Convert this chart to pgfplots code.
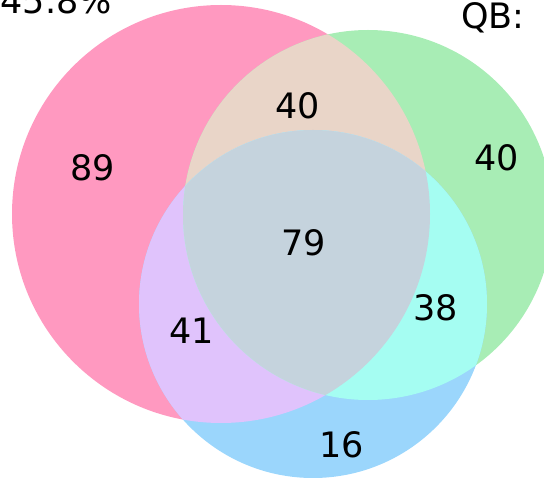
\documentclass[border=0pt]{standalone}
\usepackage{fontspec}
\setmainfont{DejaVu Sans}
\usepackage{pgfplots}
\usepackage{pgfplotstable}
\pgfplotsset{compat=1.18}

% region colours
\definecolor{onlyA}{RGB}{255,153,192}
\definecolor{onlyB}{RGB}{168,237,181}
\definecolor{onlyC}{RGB}{155,214,252}
\definecolor{AB}{RGB}{233,213,200}
\definecolor{AC}{RGB}{224,195,252}
\definecolor{BC}{RGB}{165,253,242}
\definecolor{ABC}{RGB}{197,211,221}

% circles, in picture coordinates (y downwards)
\pgfplotstableread{
cx  cy  r
221 214 209
368 215 185
313 304 174
}\circles

% region counts and label positions
\pgfplotstableread{
x   y   n
93  168 89
298 106 40
497 158 40
304 243 79
192 331 41
436 308 38
342 445 16
}\counts

\pgfplotstablegetelem{0}{cx}\of\circles \let\ax\pgfplotsretval
\pgfplotstablegetelem{0}{cy}\of\circles \let\ay\pgfplotsretval
\pgfplotstablegetelem{0}{r}\of\circles  \let\ar\pgfplotsretval
\pgfplotstablegetelem{1}{cx}\of\circles \let\bx\pgfplotsretval
\pgfplotstablegetelem{1}{cy}\of\circles \let\by\pgfplotsretval
\pgfplotstablegetelem{1}{r}\of\circles  \let\br\pgfplotsretval
\pgfplotstablegetelem{2}{cx}\of\circles \let\cx\pgfplotsretval
\pgfplotstablegetelem{2}{cy}\of\circles \let\cy\pgfplotsretval
\pgfplotstablegetelem{2}{r}\of\circles  \let\cr\pgfplotsretval

\begin{document}
\begin{tikzpicture}
\path[use as bounding box, clip] (0,0) rectangle (544pt,478pt);
\begin{axis}[
    at={(0,0)}, anchor=south west,
    scale only axis, width=544pt, height=478pt,
    xmin=0, xmax=544, ymin=0, ymax=478,
    y dir=reverse,
    hide axis,
    clip=false,
]
\pgfplotsextra{
    \fill[onlyA] (axis cs:\ax,\ay) circle[radius=\ar];
    \fill[onlyB] (axis cs:\bx,\by) circle[radius=\br];
    \fill[onlyC] (axis cs:\cx,\cy) circle[radius=\cr];
    \begin{scope}
        \clip (axis cs:\ax,\ay) circle[radius=\ar];
        \fill[AB] (axis cs:\bx,\by) circle[radius=\br];
        \fill[AC] (axis cs:\cx,\cy) circle[radius=\cr];
    \end{scope}
    \begin{scope}
        \clip (axis cs:\bx,\by) circle[radius=\br];
        \fill[BC] (axis cs:\cx,\cy) circle[radius=\cr];
        \clip (axis cs:\ax,\ay) circle[radius=\ar];
        \fill[ABC] (axis cs:\cx,\cy) circle[radius=\cr];
    \end{scope}
}
\addplot[only marks, mark=*, mark size=0pt,
    mark options={draw opacity=0, fill opacity=0},
    point meta=explicit symbolic,
    nodes near coords={\pgfplotspointmeta},
    every node near coord/.append style={anchor=center, inner sep=0pt,
        font=\fontsize{35}{40}\selectfont, text=black, opacity=1},
] table[x=x, y=y, meta=n] {\counts};
\node[anchor=base east, inner sep=0pt, font=\fontsize{35}{40}\selectfont]
    at (axis cs:112,14) {45.8\%};
\node[anchor=base west, inner sep=0pt, font=\fontsize{35}{40}\selectfont]
    at (axis cs:461,29) {QB:};
\end{axis}
\end{tikzpicture}
\end{document}
